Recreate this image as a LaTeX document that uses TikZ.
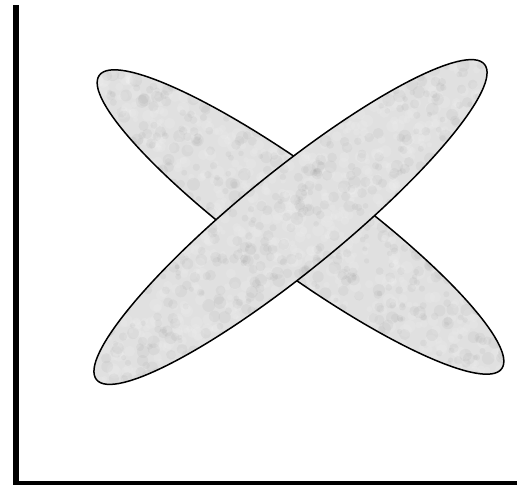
\documentclass[tikz,border=0pt]{standalone}
\begin{document}
\begin{tikzpicture}[x=1pt,y=-1pt,
  blobfill/.style={fill=black!12},
  bloboutline/.style={draw=black, line width=1.5pt},
  axisline/.style={draw=black}]
\useasboundingbox (0,0) rectangle (517,485);
\pgfmathsetseed{4242}
% ellipse from top-left to bottom-right (behind)
\begin{scope}[shift={(300.5,222)}, rotate=-36.1]
  \path[blobfill] (0,0) ellipse [x radius=249, y radius=50];
  \begin{scope}
    \clip (0,0) ellipse [x radius=249, y radius=50];
    \foreach \i in {1,...,900} {
      \pgfmathsetmacro\px{rnd*500-250}
      \pgfmathsetmacro\py{rnd*104-52}
      \pgfmathsetmacro\pr{rnd*4+2.5}
      \pgfmathsetmacro\pc{rnd}
      \ifdim\pc pt<0.45pt
        \fill[black, opacity=0.03] (\px,\py) circle [radius=\pr];
      \else
        \fill[white, opacity=0.10] (\px,\py) circle [radius=\pr];
      \fi
    }
  \end{scope}
  \path[bloboutline] (0,0) ellipse [x radius=249, y radius=50];
\end{scope}
% ellipse from bottom-left to top-right (in front)
\begin{scope}[shift={(290.5,222)}, rotate=39.1]
  \path[blobfill] (0,0) ellipse [x radius=250, y radius=50];
  \begin{scope}
    \clip (0,0) ellipse [x radius=250, y radius=50];
    \foreach \i in {1,...,900} {
      \pgfmathsetmacro\px{rnd*502-251}
      \pgfmathsetmacro\py{rnd*104-52}
      \pgfmathsetmacro\pr{rnd*4+2.5}
      \pgfmathsetmacro\pc{rnd}
      \ifdim\pc pt<0.45pt
        \fill[black, opacity=0.03] (\px,\py) circle [radius=\pr];
      \else
        \fill[white, opacity=0.10] (\px,\py) circle [radius=\pr];
      \fi
    }
  \end{scope}
  \path[bloboutline] (0,0) ellipse [x radius=250, y radius=50];
\end{scope}
% axes
\coordinate (top) at (16,5);
\coordinate (bottom) at (16,485);
\coordinate (left) at (13,483);
\coordinate (right) at (517,483);
\draw[axisline, line width=6pt] (top) -- (bottom);
\draw[axisline, line width=3.5pt] (left) -- (right);
\end{tikzpicture}
\end{document}
